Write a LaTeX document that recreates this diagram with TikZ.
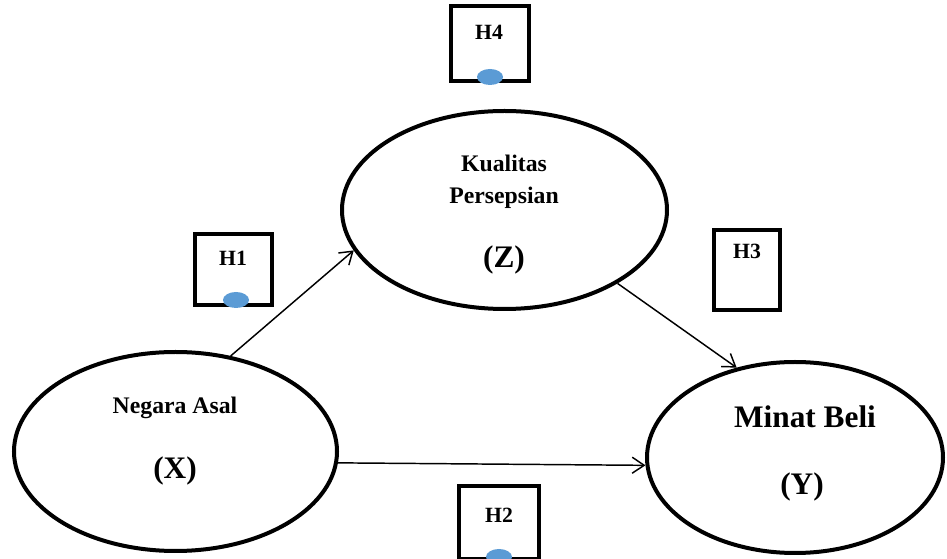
\documentclass[tikz,border=0pt]{standalone}
\usepackage{fontspec}
\setmainfont{Liberation Serif}
\usetikzlibrary{arrows.meta,shapes.geometric,positioning}
\definecolor{dotblue}{HTML}{5B9BD5}

\begin{document}
\begin{tikzpicture}[x=0.75pt,y=-0.75pt,
  latent/.style={ellipse, draw, line width=3pt, inner sep=0pt},
  hbox/.style={draw, line width=3pt, inner sep=0pt},
  hdot/.style={ellipse, fill=dotblue, inner sep=0pt, minimum width=19.5pt, minimum height=12pt},
  lbl/.style={font=\bfseries\fontsize{17.8}{20}\selectfont, anchor=base, inner sep=0pt},
  big/.style={font=\bfseries\fontsize{23.5}{26}\selectfont, anchor=base, inner sep=0pt},
  hlbl/.style={font=\bfseries\fontsize{16.3}{18}\selectfont, inner sep=0pt},
  link/.style={-{Straight Barb[length=9pt,width=12pt]}, line width=1.1pt}]
\useasboundingbox (0,0) rectangle (947,559);
% variabel laten
\node[latent, minimum width=243.75pt, minimum height=148.5pt] (Z) at (504.5,210) {};
\node[latent, minimum width=242.25pt, minimum height=149.25pt] (X) at (175.5,451.5) {};
\node[latent, minimum width=222pt, minimum height=143.25pt] (Y) at (795,457.5) {};
\node[lbl] (zt1) at (504,172) {Kualitas};
\node[lbl] (zt2) at (504,204) {Persepsian};
\node[big] (zt3) at (504,268) {(Z)};
\node[lbl] (xt1) at (175,414) {Negara Asal};
\node[big] (xt2) at (175,479) {(X)};
\node[big] (yt1) at (805,428) {Minat Beli};
\node[big] (yt2) at (802,495) {(Y)};
% hipotesis
\node[hbox, minimum width=58.5pt, minimum height=56.25pt] (h4) at (490,43.5) {};
\node[hbox, minimum width=57.75pt, minimum height=53.25pt] (h1) at (233.5,269.5) {};
\node[hbox, minimum width=49.5pt, minimum height=60pt] (h3) at (747,270) {};
\node[hbox, minimum width=60pt, minimum height=54.75pt] (h2) at (499,522.5) {};
\node[hlbl] (h4t) at (489,32) {H4};
\node[hlbl] (h1t) at (233,258) {H1};
\node[hlbl] (h3t) at (747,251) {H3};
\node[hlbl] (h2t) at (499,515) {H2};
\foreach \d/\x/\y in {d4/490/77, d1/236/300, d2/499/557}
  \node[hdot] (\d) at (\x,\y) {};
% jalur
\draw[link] (X.60) -- (Z.195);
\draw[link] (Z.-33) -- (Y.123);
\draw[link] (X.-4) -- (Y.183);
\end{tikzpicture}
\end{document}
